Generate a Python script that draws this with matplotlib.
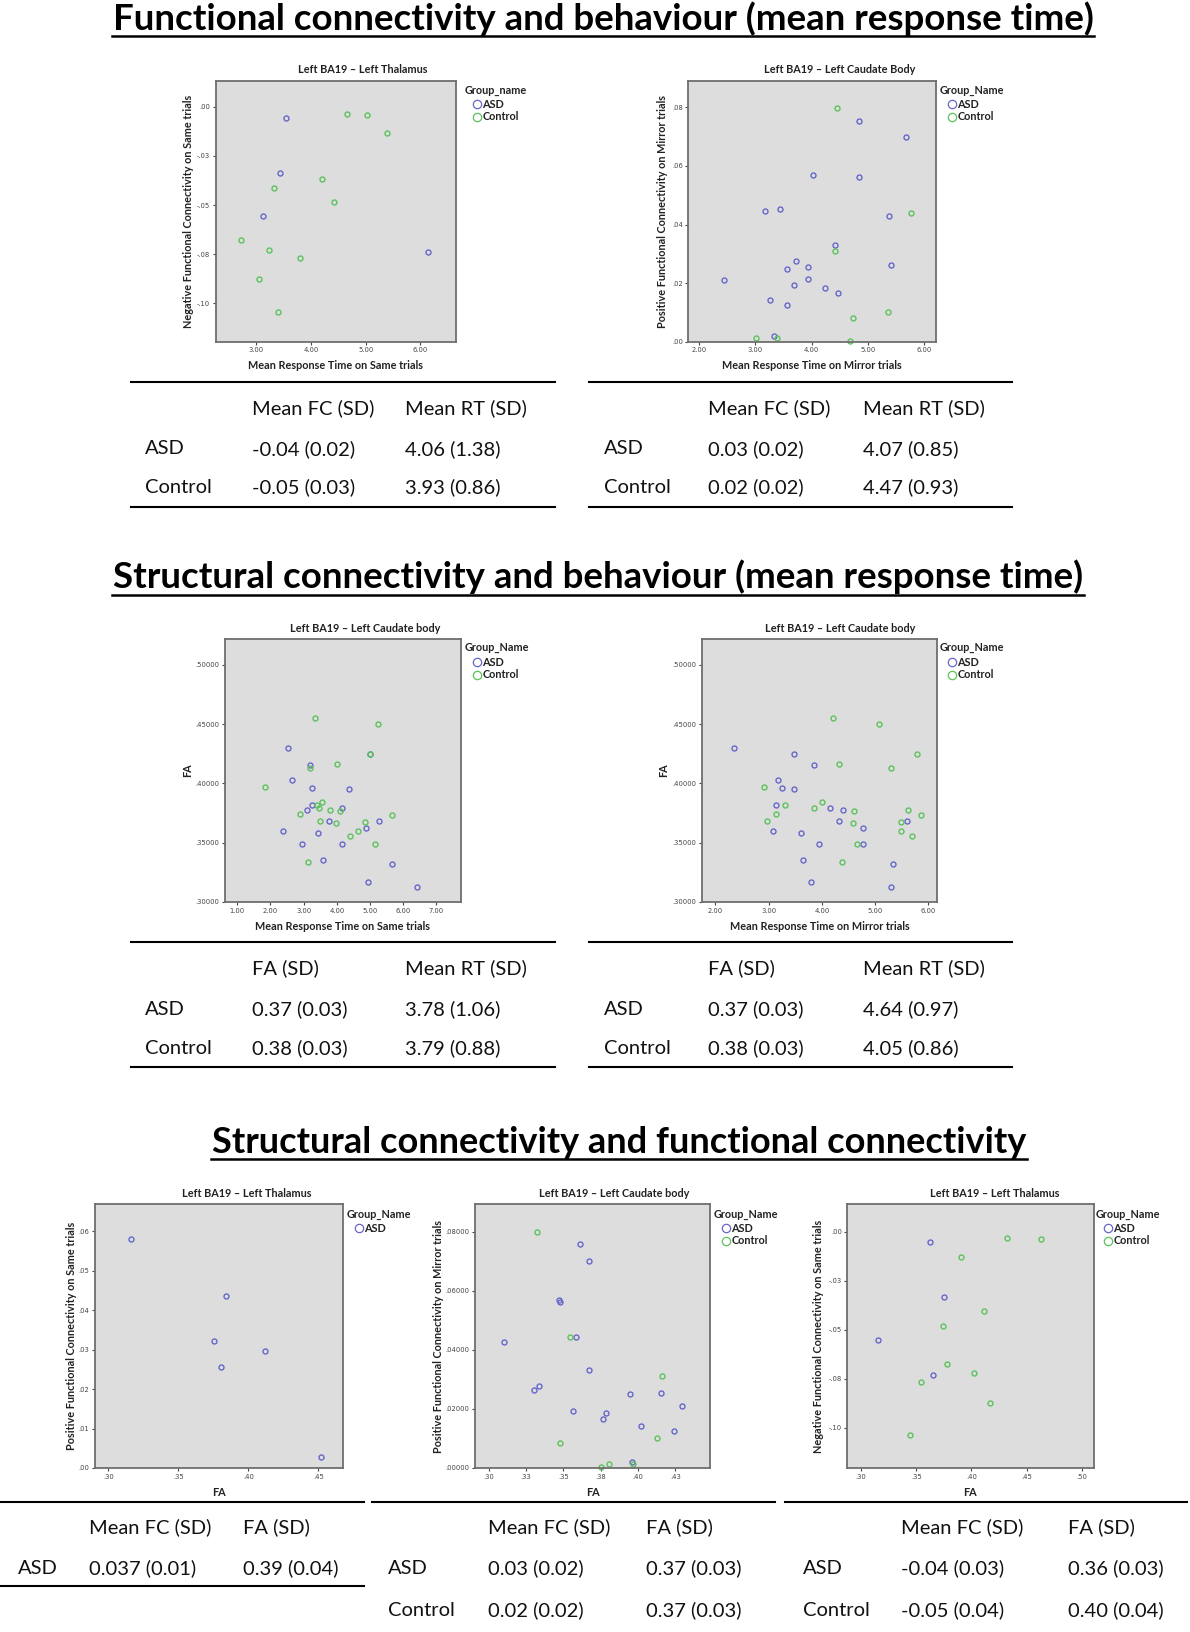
import matplotlib
matplotlib.use('Agg')
import matplotlib.pyplot as plt
from matplotlib.lines import Line2D

# ---- data ----
# row 1: functional connectivity vs mean response time
p1_asd_rt = [3.54, 3.44, 3.12, 6.13]
p1_asd_fc = [-0.0059, -0.0339, -0.0556, -0.0737]
p1_ctl_rt = [4.66, 5.02, 5.40, 4.20, 3.32, 4.43, 2.72, 3.23, 3.80, 3.06, 3.41]
p1_ctl_fc = [-0.0039, -0.0042, -0.0134, -0.0369, -0.0412, -0.0486, -0.0680, -0.0727, -0.0768, -0.0876, -0.1042]

p2_asd_rt = [4.85, 5.67, 4.02, 4.85, 3.17, 3.44, 5.37, 4.41, 3.73, 3.57, 3.94, 5.41, 2.45, 3.69, 3.93, 4.24, 4.47, 3.26, 3.57, 3.34]
p2_asd_fc = [0.0755, 0.0698, 0.0569, 0.0561, 0.0445, 0.0452, 0.0428, 0.0331, 0.0275, 0.0249, 0.0254, 0.0261, 0.0210, 0.0193, 0.0214, 0.0184, 0.0166, 0.0142, 0.0124, 0.0019]
p2_ctl_rt = [4.46, 5.76, 4.41, 5.36, 4.73, 3.01, 3.39, 4.69]
p2_ctl_fc = [0.0797, 0.0440, 0.0310, 0.0102, 0.0082, 0.0014, 0.0014, 0.0002]

# row 2: FA vs mean response time
p3_asd_rt = [2.54, 3.18, 2.66, 3.24, 4.36, 3.24, 3.10, 4.14, 3.75, 5.27, 4.87, 2.38, 3.43, 2.94, 4.15, 3.58, 5.67, 4.94, 6.42, 5.00]
p3_asd_fa = [0.4296, 0.4158, 0.4025, 0.3963, 0.3955, 0.3817, 0.3778, 0.3792, 0.3685, 0.3685, 0.3626, 0.3600, 0.3581, 0.3488, 0.3493, 0.3353, 0.3324, 0.3167, 0.3125, 0.4248]
p3_ctl_rt = [3.35, 5.24, 5.00, 4.01, 3.19, 1.85, 3.55, 3.39, 3.45, 3.78, 4.08, 2.90, 5.65, 3.48, 4.86, 3.96, 4.63, 4.39, 5.14, 3.14]
p3_ctl_fa = [0.4552, 0.4498, 0.4248, 0.4166, 0.4132, 0.3972, 0.3845, 0.3817, 0.3792, 0.3772, 0.3766, 0.3741, 0.3733, 0.3679, 0.3674, 0.3662, 0.3600, 0.3558, 0.3491, 0.3341]

p4_asd_rt = [2.35, 3.48, 3.86, 3.17, 3.26, 3.48, 3.14, 4.16, 4.39, 4.33, 5.60, 4.77, 3.09, 3.60, 3.94, 4.77, 3.65, 5.34, 3.80, 5.30]
p4_asd_fa = [0.4296, 0.4248, 0.4158, 0.4025, 0.3963, 0.3955, 0.3817, 0.3792, 0.3778, 0.3685, 0.3685, 0.3626, 0.3600, 0.3581, 0.3488, 0.3493, 0.3353, 0.3324, 0.3167, 0.3125]
p4_ctl_rt = [4.20, 5.07, 5.78, 4.33, 5.29, 2.92, 4.01, 3.31, 3.86, 4.60, 5.61, 3.13, 5.86, 2.97, 5.49, 4.59, 5.49, 5.69, 4.65, 4.38]
p4_ctl_fa = [0.4552, 0.4498, 0.4245, 0.4166, 0.4132, 0.3972, 0.3845, 0.3817, 0.3792, 0.3766, 0.3772, 0.3741, 0.3733, 0.3679, 0.3674, 0.3662, 0.3600, 0.3558, 0.3491, 0.3341]

# row 3: functional connectivity vs FA
p5_asd_fa = [0.3161, 0.3839, 0.3758, 0.3806, 0.4118, 0.4518]
p5_asd_fc = [0.0579, 0.0435, 0.0322, 0.0255, 0.0297, 0.0028]

p6_asd_fa = [0.3613, 0.3672, 0.3471, 0.3480, 0.3584, 0.3105, 0.3672, 0.3303, 0.3335, 0.3946, 0.4154, 0.4294, 0.3564, 0.3783, 0.3765, 0.4018, 0.4245, 0.3960]
p6_asd_fc = [0.0757, 0.0700, 0.0570, 0.0563, 0.0445, 0.0428, 0.0333, 0.0263, 0.0277, 0.0249, 0.0254, 0.0211, 0.0194, 0.0185, 0.0167, 0.0143, 0.0125, 0.0021]
p6_ctl_fa = [0.3321, 0.3544, 0.4162, 0.4127, 0.3475, 0.3969, 0.3805, 0.3752]
p6_ctl_fc = [0.0798, 0.0442, 0.0312, 0.0103, 0.0083, 0.0014, 0.0014, 0.0002]

p7_asd_fa = [0.3628, 0.3749, 0.3151, 0.3655]
p7_asd_fc = [-0.0053, -0.0335, -0.0551, -0.0733]
p7_ctl_fa = [0.4322, 0.4630, 0.3903, 0.4117, 0.3743, 0.3779, 0.4027, 0.3546, 0.4168, 0.3444]
p7_ctl_fc = [-0.0032, -0.0036, -0.0128, -0.0406, -0.0481, -0.0675, -0.0723, -0.0765, -0.0872, -0.1039]

# tick values / labels
neg_fc_ticks = [0, -0.025, -0.05, -0.075, -0.10]
neg_fc_labels = ['.00', '-.03', '-.05', '-.08', '-.10']
pos_fc_ticks = [0, 0.02, 0.04, 0.06, 0.08]
pos_fc_labels = ['.00', '.02', '.04', '.06', '.08']
pos_fc5_labels = ['.00000', '.02000', '.04000', '.06000', '.08000']
fa_ticks = [0.30, 0.35, 0.40, 0.45, 0.50]
fa_labels = ['.30000', '.35000', '.40000', '.45000', '.50000']
same_fc_ticks = [0, 0.01, 0.02, 0.03, 0.04, 0.05, 0.06]
same_fc_labels = ['.00', '.01', '.02', '.03', '.04', '.05', '.06']
rt_ticks_a = [3, 4, 5, 6]
rt_ticks_b = [2, 3, 4, 5, 6]
rt_ticks_c = [1, 2, 3, 4, 5, 6, 7]
fa_x_ticks_a = [0.30, 0.35, 0.40, 0.45]
fa_x_ticks_b = [0.30, 0.325, 0.35, 0.375, 0.40, 0.425]
fa_x_labels_b = ['.30', '.33', '.35', '.38', '.40', '.43']
fa_x_ticks_c = [0.30, 0.35, 0.40, 0.45, 0.50]

# tables
hdr_fc_rt = ['Mean FC (SD)', 'Mean RT (SD)']
hdr_fa_rt = ['FA (SD)', 'Mean RT (SD)']
hdr_fc_fa = ['Mean FC (SD)', 'FA (SD)']
t1_rows = [('ASD', '-0.04 (0.02)', '4.06 (1.38)'), ('Control', '-0.05 (0.03)', '3.93 (0.86)')]
t2_rows = [('ASD', '0.03 (0.02)', '4.07 (0.85)'), ('Control', '0.02 (0.02)', '4.47 (0.93)')]
t3_rows = [('ASD', '0.37 (0.03)', '3.78 (1.06)'), ('Control', '0.38 (0.03)', '3.79 (0.88)')]
t4_rows = [('ASD', '0.37 (0.03)', '4.64 (0.97)'), ('Control', '0.38 (0.03)', '4.05 (0.86)')]
t5_rows = [('ASD', '0.037 (0.01)', '0.39 (0.04)')]
t6_rows = [('ASD', '0.03 (0.02)', '0.37 (0.03)'), ('Control', '0.02 (0.02)', '0.37 (0.03)')]
t7_rows = [('ASD', '-0.04 (0.03)', '0.36 (0.03)'), ('Control', '-0.05 (0.04)', '0.40 (0.04)')]

ASD_C = '#6767c9'
CTL_C = '#5cc25c'
SPSS_FONT = 'Lato'
SMALL = 7.8

W, H = 1190, 1632
fig = plt.figure(figsize=(W / 100, H / 100), dpi=100)
fig.patch.set_facecolor('white')


def fx(px):
    return px / W


def fy(py):
    return 1 - py / H


def scatter_panel(box, title, title_x, xlab, ylab, ylab_x, xlim, ylim,
                  xticks, xlabels, yticks, ylabels, series, leg_x, leg_y, leg_title):
    l, t, r, b = box
    ax = fig.add_axes([fx(l), fy(b), (r - l) / W, (b - t) / H])
    ax.set_facecolor('#dddddd')
    for xs, ys, c in series:
        ax.plot(xs, ys, ls='none', marker='o', ms=3.6, mfc='none', mec=c, mew=1.0, clip_on=False)
    ax.set_xlim(xlim)
    ax.set_ylim(ylim)
    ax.set_xticks(xticks)
    ax.set_xticklabels(xlabels)
    ax.set_yticks(yticks)
    ax.set_yticklabels(ylabels)
    for sp in ax.spines.values():
        sp.set_color('#6e6e6e')
        sp.set_linewidth(1.3)
    ax.tick_params(length=2.5, width=0.8, labelsize=4.9, pad=1.5, colors='#444444')
    for lab in ax.get_xticklabels() + ax.get_yticklabels():
        lab.set_family('DejaVu Sans')

    fig.text(fx(title_x), fy(t - 11), title, ha='center', va='center', fontsize=SMALL,
             fontweight='bold', family=SPSS_FONT, color='#222222')
    fig.text(fx((l + r) / 2), fy(b + 24), xlab, ha='center', va='center', fontsize=SMALL,
             fontweight='bold', family=SPSS_FONT, color='#222222')
    fig.text(fx(ylab_x), fy((t + b) / 2), ylab, ha='center', va='center', rotation=90,
             fontsize=SMALL, fontweight='bold', family=SPSS_FONT, color='#222222')

    # legend, laid out as in SPSS output
    fig.text(fx(leg_x), fy(leg_y), leg_title, ha='left', va='center', fontsize=SMALL,
             fontweight='bold', family=SPSS_FONT, color='#222222')
    used = [x[2] for x in series]
    entries = [s for s in [('ASD', ASD_C), ('Control', CTL_C)] if s[1] in used]
    for i, (name, c) in enumerate(entries):
        yy = leg_y + 14 + i * 12.6
        fig.add_artist(Line2D([fx(leg_x + 12)], [fy(yy)], marker='o', ms=6, mfc='none',
                              mec=c, mew=0.9, transform=fig.transFigure))
        fig.text(fx(leg_x + 17.5), fy(yy), name, ha='left', va='center', fontsize=SMALL,
                 fontweight='bold', family=SPSS_FONT, color='#222222')
    return ax


def hline(x0, x1, y, lw=1.5):
    fig.add_artist(Line2D([fx(x0), fx(x1)], [fy(y), fy(y)], color='black', lw=lw,
                          transform=fig.transFigure))


def table(x0, x1, top, bottom, col_x, header, rows, row_y):
    hline(x0, x1, top)
    if bottom is not None:
        hline(x0, x1, bottom)
    for j, h in enumerate(header):
        fig.text(fx(col_x[j + 1]), fy(row_y[0]), h, ha='left', va='center', fontsize=14.5,
                 family='Lato', color='#111111')
    for i, row in enumerate(rows):
        for j, cell in enumerate(row):
            fig.text(fx(col_x[j]), fy(row_y[i + 1]), cell, ha='left', va='center',
                     fontsize=14.5, family='Lato', color='#111111')


renderer = fig.canvas.get_renderer()


def big_title(text, x0, x1, base_y):
    t = fig.text(fx((x0 + x1) / 2), fy(base_y), text, ha='center', va='baseline',
                 fontsize=24, fontweight='bold', family='Lato', color='black')
    w = t.get_window_extent(renderer).width
    t.set_fontsize(24 * (x1 - x0) / w)
    hline(x0, x1, base_y + 6, lw=1.8)


# ---- section titles ----
big_title('Functional connectivity and behaviour (mean response time)', 112, 1094, 30)
big_title('Structural connectivity and behaviour (mean response time)', 112, 1084, 588.5)
big_title('Structural connectivity and functional connectivity', 211, 1027, 1153)

# ---- row 1 ----
scatter_panel((215.7, 80.7, 456, 341.7), 'Left BA19 – Left Thalamus', 363,
              'Mean Response Time on Same trials',
              'Negative Functional Connectivity on Same trials', 188,
              (2.265, 6.65), (-0.1195, 0.0132),
              rt_ticks_a, ['%.2f' % v for v in rt_ticks_a], neg_fc_ticks, neg_fc_labels,
              [(p1_asd_rt, p1_asd_fc, ASD_C), (p1_ctl_rt, p1_ctl_fc, CTL_C)],
              465, 90, 'Group_name')

scatter_panel((688.3, 80.7, 936, 341.7), 'Left BA19 – Left Caudate Body', 840,
              'Mean Response Time on Mirror trials',
              'Positive Functional Connectivity on Mirror trials', 663,
              (1.81, 6.21), (0, 0.0891),
              rt_ticks_b, ['%.2f' % v for v in rt_ticks_b], pos_fc_ticks, pos_fc_labels,
              [(p2_asd_rt, p2_asd_fc, ASD_C), (p2_ctl_rt, p2_ctl_fc, CTL_C)],
              940, 90, 'Group_Name')

table(130.7, 555, 381.7, 506.5, [145, 251.7, 405], hdr_fc_rt, t1_rows, [408, 449, 487.5])
table(589, 1012, 381.7, 506.5, [604, 708, 863], hdr_fc_rt, t2_rows, [408, 449, 487.5])

# ---- row 2 ----
scatter_panel((224.5, 639, 461, 902), 'Left BA19 – Left Caudate body', 365,
              'Mean Response Time on Same trials', 'FA', 188,
              (0.615, 7.74), (0.30, 0.5217),
              rt_ticks_c, ['%.2f' % v for v in rt_ticks_c], fa_ticks, fa_labels,
              [(p3_asd_rt, p3_asd_fa, ASD_C), (p3_ctl_rt, p3_ctl_fa, CTL_C)],
              465, 648, 'Group_Name')

scatter_panel((702, 639, 937, 902), 'Left BA19 – Left Caudate body', 840,
              'Mean Response Time on Mirror trials', 'FA', 664,
              (1.75, 6.16), (0.30, 0.5217),
              rt_ticks_b, ['%.2f' % v for v in rt_ticks_b], fa_ticks, fa_labels,
              [(p4_asd_rt, p4_asd_fa, ASD_C), (p4_ctl_rt, p4_ctl_fa, CTL_C)],
              940, 648, 'Group_Name')

table(130.7, 555, 942.3, 1067, [145, 251.7, 405], hdr_fa_rt, t3_rows, [968.6, 1009.6, 1048])
table(589, 1012, 942.3, 1067, [604, 708, 863], hdr_fa_rt, t4_rows, [968.6, 1009.6, 1048])

# ---- row 3 ----
scatter_panel((95, 1204.3, 343, 1468), 'Left BA19 – Left Thalamus', 247,
              'FA', 'Positive Functional Connectivity on Same trials', 71.7,
              (0.2906, 0.4675), (0, 0.0668),
              fa_x_ticks_a, ['.30', '.35', '.40', '.45'], same_fc_ticks, same_fc_labels,
              [(p5_asd_fa, p5_asd_fc, ASD_C)],
              347, 1214, 'Group_Name')

scatter_panel((475, 1204.3, 710, 1468), 'Left BA19 – Left Caudate body', 614,
              'FA', 'Positive Functional Connectivity on Mirror trials', 438,
              (0.2908, 0.4483), (0, 0.0893),
              fa_x_ticks_b, fa_x_labels_b, pos_fc_ticks, pos_fc5_labels,
              [(p6_asd_fa, p6_asd_fc, ASD_C), (p6_ctl_fa, p6_ctl_fc, CTL_C)],
              714, 1214, 'Group_Name')

scatter_panel((847.3, 1204.3, 1093.5, 1468), 'Left BA19 – Left Thalamus', 995,
              'FA', 'Negative Functional Connectivity on Same trials', 819,
              (0.2876, 0.5107), (-0.1206, 0.0140),
              fa_x_ticks_c, ['.30', '.35', '.40', '.45', '.50'], neg_fc_ticks, neg_fc_labels,
              [(p7_asd_fa, p7_asd_fc, ASD_C), (p7_ctl_fa, p7_ctl_fc, CTL_C)],
              1095.7, 1214, 'Group_Name')

table(0, 364, 1502, 1586, [17.7, 89.4, 243], hdr_fc_fa, t5_rows, [1527, 1568])
table(372, 775, 1502, None, [388, 488, 646], hdr_fc_fa, t6_rows, [1527, 1568, 1610])
table(785, 1187, 1502, None, [803, 900.6, 1068], hdr_fc_fa, t7_rows, [1527, 1568, 1610])

fig.savefig('out.png', dpi=100)
